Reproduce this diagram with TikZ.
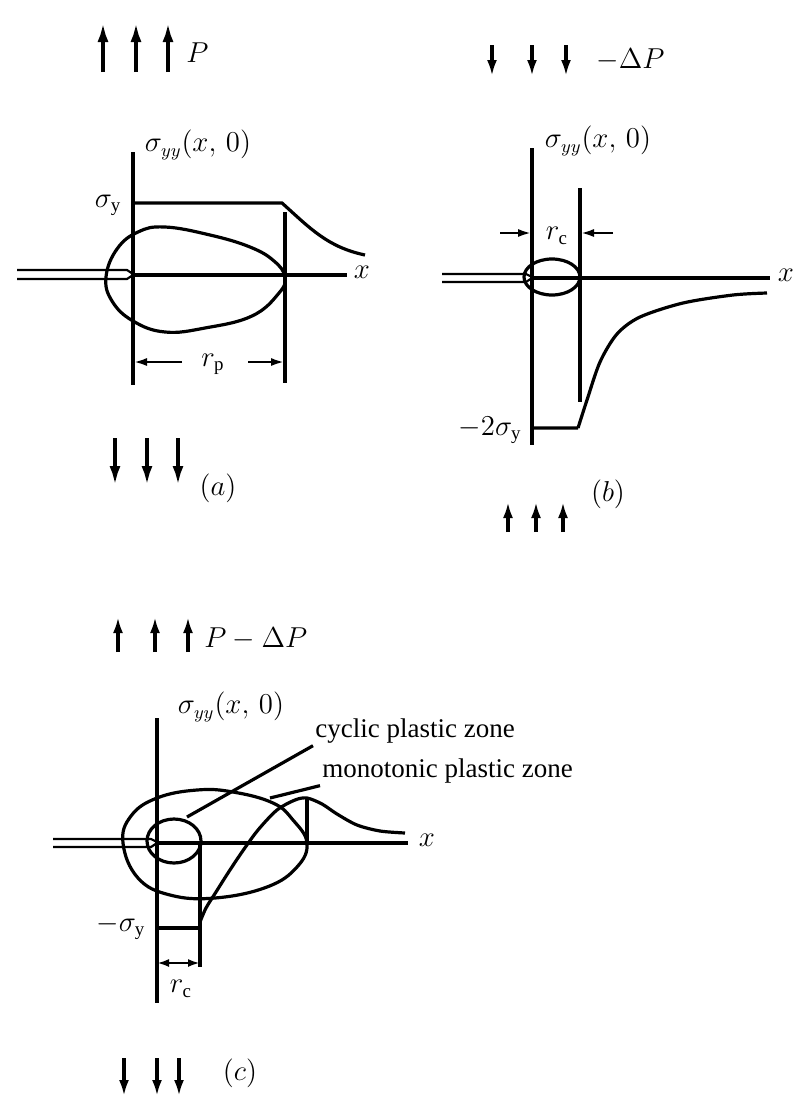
\documentclass[tikz,border=0pt]{standalone}
\usepackage{fontspec}
\setmainfont{Liberation Serif}
\usepackage{amsmath}
\usetikzlibrary{arrows.meta}
\tikzset{
  ax/.style  ={line width=1.7pt},
  crv/.style ={line width=1.6pt},
  crk/.style ={line width=1.1pt},
  load/.style={line width=2.2pt,-{Latex[length=10pt,width=5.5pt]}},
  lds/.style ={line width=2.2pt,-{Latex[length=8pt,width=5pt]}},
  dim/.style ={line width=1.4pt,-{Latex[length=7pt,width=4pt]}},
  dd/.style  ={line width=1.4pt,{Latex[length=6pt,width=4pt]}-{Latex[length=6pt,width=4pt]}},
  lbl/.style ={inner sep=1pt,font=\fontsize{13.5}{16}\selectfont},
}

\begin{document}
\begin{tikzpicture}[x=0.5pt,y=-0.5pt]
  \useasboundingbox (0,0) rectangle (807,1110);
  % (a) load P
  \foreach \xx in {103,136,168} \draw[load] (\xx,72) -- (\xx,22);
  \node[lbl,anchor=west] (Pa) at (184,53) {$P$};
  \draw[ax] (133,152) -- (133,385);
  \draw[ax] (285,212) -- (285,383);
  \draw[ax] (133,275) -- (347,275);
  \draw[crk] (17,270) -- (127,270) -- (133,274);
  \draw[crk] (17,279) -- (127,279) -- (133,275);
  \node[lbl] (sa)  at (198,145) {$\sigma_{yy}(x,\,0)$};
  \node[lbl] (sya) at (108,205) {$\sigma_{\mathrm{y}}$};
  \node[lbl] (xa)  at (362,272) {$x$};
  \draw[crv] (133,203) -- (282,203) to[out=-42,in=168] (365,255);
  \draw[crv] plot[smooth cycle,tension=0.7] coordinates {(106,277) (117,249) (138,232) (165,227) (210,235) (250,247) (274,261) (285,277) (279,293) (252,316) (205,328) (165,332) (133,321) (112,301)};
  \node[lbl] (rp) at (213,364) {$r_{\mathrm{p}}$};
  \draw[dim] (182,362) -- (133,362);
  \draw[dim] (248,362) -- (285,362);
  \foreach \xx in {115,147,178} \draw[load] (\xx,438) -- (\xx,486);
  \node[lbl] (la) at (218,488) {$(a)$};

  % (b) unload -dP
  \foreach \xx in {492,532,566} \draw[lds] (\xx,45) -- (\xx,76);
  \node[lbl,anchor=west] (dPb) at (594,60) {$-\Delta P$};
  \draw[ax] (532,148) -- (532,445);
  \draw[ax] (580,188) -- (580,402);
  \draw[ax] (532,278) -- (770,278);
  \draw[crk] (442,274) -- (526,274) -- (532,277);
  \draw[crk] (442,282) -- (526,282) -- (532,278);
  \node[lbl] (sb)  at (598,141) {$\sigma_{yy}(x,\,0)$};
  \node[lbl] (xb)  at (786,275) {$x$};
  \draw[crv] (552,277) ellipse[x radius=28,y radius=18];
  \node[lbl] (rcb) at (557,236) {$r_{\mathrm{c}}$};
  \draw[dim] (500,233) -- (532,233);
  \draw[dim] (613,233) -- (580,233);
  \draw[crv] (532,428) -- (578,428) plot[smooth] coordinates {(578,428) (587,400) (600,362) (617,334) (640,317) (683,303) (733,295) (767,293)};
  \node[lbl] (syb) at (490,430) {$-2\sigma_{\mathrm{y}}$};
  \node[lbl] (lb)  at (608,494) {$(b)$};
  \foreach \xx in {508,536,563} \draw[lds] (\xx,532) -- (\xx,502);

  % (c) reload P - dP
  \foreach \xx in {118,155,188} \draw[lds] (\xx,652) -- (\xx,617);
  \node[lbl,anchor=west] (Pc) at (202,639) {$P-\Delta P$};
  \draw[ax] (157,718) -- (157,1003);
  \draw[ax] (157,843) -- (408,843);
  \draw[crk] (53,839) -- (151,839) -- (157,842);
  \draw[crk] (53,847) -- (151,847) -- (157,843);
  \node[lbl] (sc) at (231,707) {$\sigma_{yy}(x,\,0)$};
  \node[lbl] (xc) at (427,840) {$x$};
  \draw[crv] plot[smooth cycle,tension=0.7] coordinates {(123,843) (131,816) (157,798) (197,790) (233,792) (273,803) (293,820) (307,843) (297,867) (267,887) (215,898) (170,895) (138,878)};
  \draw[crv] (174,841) ellipse[x radius=27,y radius=22];
  \draw[ax] (200,843) -- (200,967);
  \draw[ax] (307,798) -- (307,843);
  \draw[crv] (157,928) -- (200,928);
  \draw[crv] plot[smooth] coordinates {(200,922) (206,908) (216,892) (228,873) (242,852) (258,830) (277,810) (295,800) (307,798) (322,804) (337,814) (357,825) (380,831) (405,833)};
  \node[lbl] (syc) at (121,927) {$-\sigma_{\mathrm{y}}$};
  \draw[dd] (157,963) -- (200,963);
  \node[lbl] (rcc) at (181,989) {$r_{\mathrm{c}}$};
  \node[lbl,anchor=west] (cyc) at (313,731) {cyclic plastic zone};
  \node[lbl,anchor=west] (mon) at (320,771) {monotonic plastic zone};
  \draw[crv] (187,817) -- (cyc.south west);
  \draw[crv] (270,798) -- (mon.south west);
  \foreach \xx in {124,157,179} \draw[lds] (\xx,1058) -- (\xx,1096);
  \node[lbl] (lc) at (240,1073) {$(c)$};
\end{tikzpicture}
\end{document}
